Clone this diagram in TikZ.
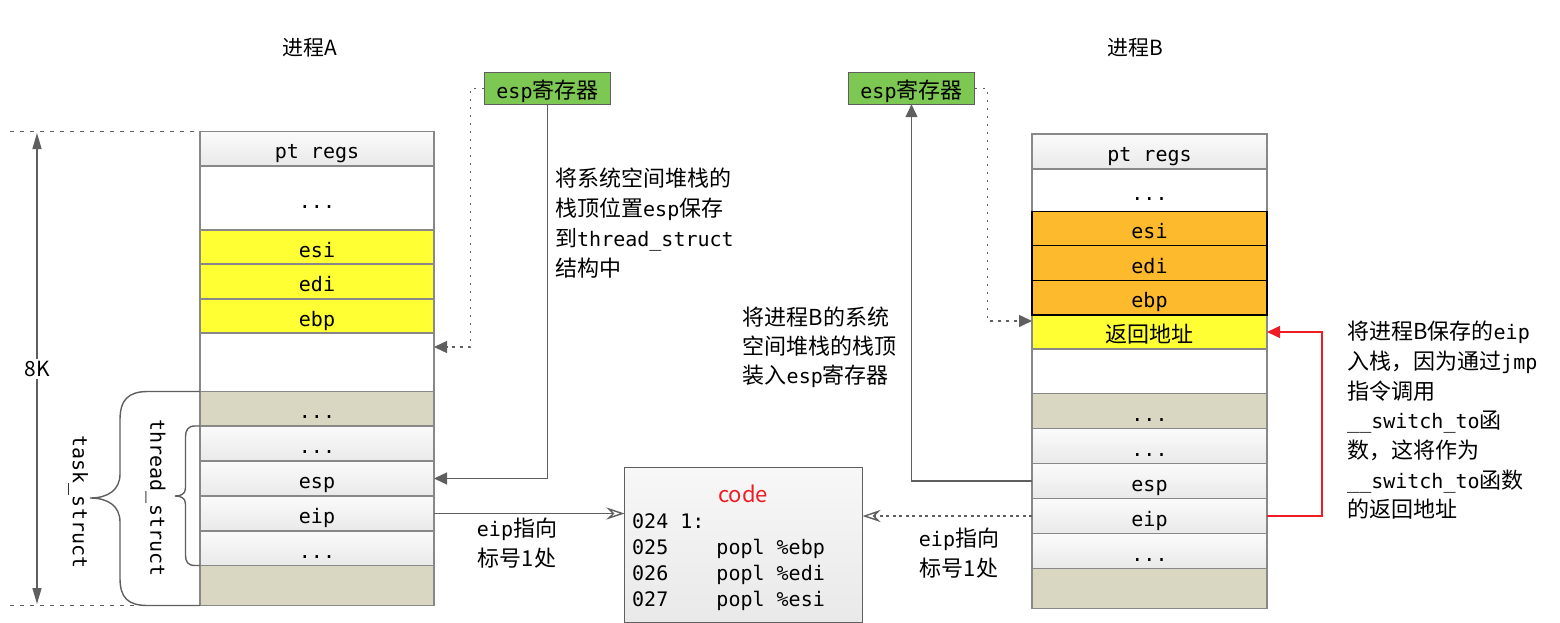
\documentclass[tikz,border=0pt]{standalone}
\usepackage{fontspec}
\setmainfont{Noto Sans CJK SC}[Scale=1.1]
\setmonofont{DejaVu Sans Mono}
\usetikzlibrary{arrows.meta}
\definecolor{lineg}{HTML}{5F5F5F}
\definecolor{bord}{HTML}{888888}
\definecolor{ylw}{HTML}{FFFF33}
\definecolor{orng}{HTML}{FDBA2C}
\definecolor{tanc}{HTML}{D9D6C1}
\definecolor{grn}{HTML}{7DC753}
\definecolor{rowtop}{HTML}{FBFBFB}
\definecolor{rowbot}{HTML}{E9E9E9}
\definecolor{redl}{HTML}{EE1C24}
\newcommand\mytt[1]{{\ttfamily #1}}
\begin{document}
\begin{tikzpicture}[x=1pt,y=-1pt,
  cell/.style={draw=bord, line width=1.2pt, inner sep=0pt, outer sep=0pt,
    text height=22pt, text depth=2pt, font=\ttfamily\fontsize{20}{24}\selectfont},
  cellA/.style={cell, minimum width=234pt},
  cellB/.style={cell, minimum width=235pt},
  grad/.style={top color=rowtop, bottom color=rowbot},
  regbox/.style={draw=lineg, line width=1.2pt, fill=grn, inner sep=0pt, outer sep=0pt,
    minimum width=126.5pt, minimum height=31.5pt, text height=22pt, text depth=2pt,
    font=\fontsize{20}{24}\selectfont},
  note/.style={align=left, inner sep=0pt, font=\fontsize{20}{30}\selectfont},
  title/.style={inner sep=0pt, font=\fontsize{19}{22}\selectfont},
  gline/.style={draw=lineg, line width=1.4pt},
  dotl/.style={draw=lineg, line width=1.4pt, dash pattern=on 2.5pt off 5.5pt},
  dotm/.style={draw=lineg, line width=1.4pt, dash pattern=on 3pt off 3.5pt},
  dimdot/.style={draw=lineg, line width=1.2pt, dash pattern=on 3.5pt off 6.5pt},
  redline/.style={draw=redl, line width=1.4pt},
  tri/.style={-{Triangle[length=13pt,width=12pt]}},
  opentip/.style={-{Stealth[open,length=18pt,width=12pt,inset=6pt]}},
  rot/.style={rotate=-90, inner sep=0pt, font=\ttfamily\fontsize{20}{24}\selectfont}
]
\useasboundingbox (0,0) rectangle (1560,623);

% titles
\node[title] (tA) at (310,48) {进程A};
\node[title] (tB) at (1135,48) {进程B};

% ---------- stack A ----------
\node[cellA, grad, minimum height=34.5pt, anchor=north west] (A1) at (200,131.5) {pt regs};
\node[cellA, fill=white, minimum height=64pt, anchor=north] (A2) at (A1.south) {...};
\node[cellA, fill=ylw, minimum height=34pt, anchor=north] (A3) at (A2.south) {esi};
\node[cellA, fill=ylw, minimum height=35pt, anchor=north] (A4) at (A3.south) {edi};
\node[cellA, fill=ylw, minimum height=34pt, anchor=north] (A5) at (A4.south) {ebp};
\node[cellA, fill=white, minimum height=58.5pt, anchor=north] (A6) at (A5.south) {};
\node[cellA, fill=tanc, minimum height=34.5pt, anchor=north] (A7) at (A6.south) {...};
\node[cellA, grad, minimum height=35pt, anchor=north] (A8) at (A7.south) {...};
\node[cellA, grad, minimum height=35pt, anchor=north] (A9) at (A8.south) {esp};
\node[cellA, grad, minimum height=35pt, anchor=north] (A10) at (A9.south) {eip};
\node[cellA, grad, minimum height=34.5pt, anchor=north] (A11) at (A10.south) {...};
\node[cellA, fill=tanc, minimum height=40pt, anchor=north] (A12) at (A11.south) {};

% ---------- stack B ----------
\node[cellB, grad, minimum height=35pt, anchor=north west] (B1) at (1032,134) {pt regs};
\node[cellB, fill=white, minimum height=42.5pt, anchor=north] (B2) at (B1.south) {...};
\node[cellB, fill=orng, minimum height=34pt, anchor=north] (B3) at (B2.south) {esi};
\node[cellB, fill=orng, minimum height=35pt, anchor=north] (B4) at (B3.south) {edi};
\node[cellB, fill=orng, minimum height=34.5pt, anchor=north] (B5) at (B4.south) {ebp};
\node[cellB, fill=ylw, minimum height=34pt, anchor=north] (B6) at (B5.south) {\rmfamily 返回地址};
\node[cellB, fill=white, minimum height=44.5pt, anchor=north] (B7) at (B6.south) {};
\node[cellB, fill=tanc, minimum height=35pt, anchor=north] (B8) at (B7.south) {...};
\node[cellB, grad, minimum height=35pt, anchor=north] (B9) at (B8.south) {...};
\node[cellB, grad, minimum height=35pt, anchor=north] (B10) at (B9.south) {esp};
\node[cellB, grad, minimum height=35pt, anchor=north] (B11) at (B10.south) {eip};
\node[cellB, grad, minimum height=35pt, anchor=north] (B12) at (B11.south) {...};
\node[cellB, fill=tanc, minimum height=40pt, anchor=north] (B13) at (B12.south) {};
\foreach \n in {B3,B4,B5}
  \draw[black, line width=1.3pt] (\n.north west) rectangle (\n.south east);

% ---------- esp registers ----------
\node[regbox] (espA) at (547.5,88.5) {\mytt{esp}寄存器};
\node[regbox] (espB) at (911.5,88.5) {\mytt{esp}寄存器};

% ---------- code box ----------
\node[draw=lineg, line width=1.2pt, inner sep=0pt, outer sep=0pt, minimum width=238pt,
  minimum height=155pt, top color=white!97!black, bottom color=rowbot,
  anchor=north west] (code) at (624.5,467.5) {};
\node[anchor=base, inner sep=0pt, text=redl, font=\fontsize{20}{24}\selectfont] (codet) at (743,502) {code};
\node[anchor=north west, inner sep=0pt, align=left, font=\ttfamily\fontsize{20}{26}\selectfont] (lst) at (632,513)
  {024 1:\\025\ \ \ \ popl \%ebp\\026\ \ \ \ popl \%edi\\027\ \ \ \ popl \%esi};

% ---------- annotations ----------
\node[note, anchor=north west] (n1) at (555,168)
  {将系统空间堆栈的\\栈顶位置\mytt{esp}保存\\到\mytt{thread\_struct}\\结构中};
\node[note, anchor=north west, font=\fontsize{20}{29}\selectfont] (n2) at (742.5,307)
  {将进程B的系统\\空间堆栈的栈顶\\装入\mytt{esp}寄存器};
\node[note, anchor=north west, font=\fontsize{20}{29.7}\selectfont] (n3) at (1347,321)
  {将进程B保存的\mytt{eip}\\入栈，因为通过\mytt{jmp}\\指令调用\\\mytt{\_\_switch\_to}函\\数，这将作为\\\mytt{\_\_switch\_to}函数\\的返回地址};
\node[note, align=center, anchor=north] (eA) at (517,518) {\mytt{eip}指向\\标号1处};
\node[note, align=center, anchor=north] (eB) at (959,528) {\mytt{eip}指向\\标号1处};

% ---------- connectors ----------
\coordinate (dA) at (470.5,347);
\draw[dotl, tri] (espA.west) -| (dA) -- (dA -| A6.east);
\draw[gline, tri] (espA.south) |- (A9.east);
\coordinate (dB) at (987.5,321);
\draw[dotl, tri] (espB.east) -| (dB) -- (dB -| B6.west);
\draw[gline, tri] (B10.west) -| (espB.south);
\coordinate (rB) at (1322,332);
\draw[redline, -{Triangle[length=13pt,width=12pt]}] (B11.east) -| (rB) -- (rB -| B6.east);
\draw[gline, opentip] (A10.east) -- (A10.east -| code.west);
\draw[dotm, opentip] (B11.west) -- (B11.west -| code.east);

% ---------- 8K dimension ----------
\coordinate (k1) at (37,133);
\coordinate (k2) at (37,604);
\draw[gline, {Triangle[length=16pt,width=9pt]}-{Triangle[length=16pt,width=9pt]}] (k1) -- (k2);
\node[fill=white, inner sep=2pt, font=\fontsize{19}{22}\selectfont] (k) at (37,369) {8K};
\coordinate (h1) at (10,131.5);
\coordinate (h2) at (10,605.5);
\draw[dimdot] (h1) -- (A1.north west);
\draw[dimdot] (h2) -- (A12.south west);

% ---------- braces ----------
\draw[gline] (A7.north west) -- (148,391.5)
  .. controls (128,391.5) and (120,400) .. (120,420) -- (120,474)
  .. controls (120,490) and (108,498) .. (90,498)
  .. controls (108,498) and (120,506) .. (120,522) -- (120,578)
  .. controls (120,598) and (128,605.5) .. (148,605.5) -- (A12.south west);
\draw[gline] (A8.north west) -- (195,426)
  .. controls (188,426) and (185.5,430) .. (185.5,437) -- (185.5,488)
  .. controls (185.5,494) and (181,496) .. (175,496)
  .. controls (181,496) and (185.5,498) .. (185.5,504) -- (185.5,555)
  .. controls (185.5,562) and (188,565.5) .. (195,565.5) -- (A11.south west);
\node[rot] (tsk) at (78,502) {task\_struct};
\node[rot] (thr) at (155.5,498) {thread\_struct};
\end{tikzpicture}
\end{document}
